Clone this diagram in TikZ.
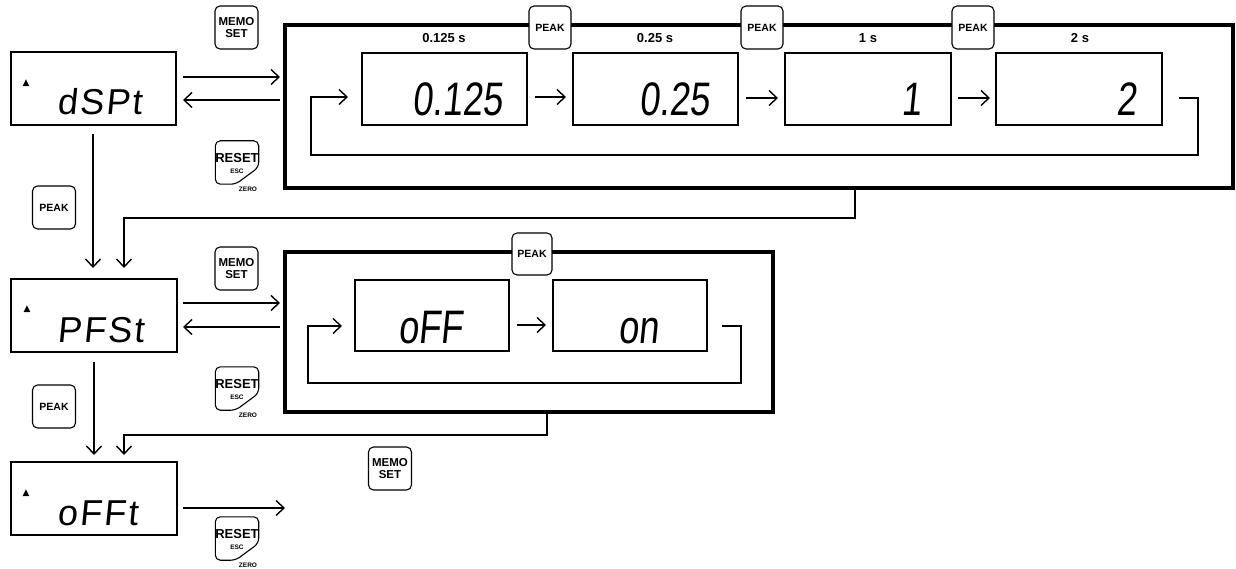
\documentclass[tikz,border=0pt]{standalone}
\usepackage{fontspec}
\setmainfont{Liberation Sans}
\newfontfamily\lcd[FakeSlant=0.1,LetterSpace=6]{Liberation Sans}
\newfontfamily\lcdn[FakeSlant=0.1,FakeStretch=0.77]{Liberation Sans}
\newfontfamily\symf{DejaVu Sans}
\usetikzlibrary{arrows.meta}
\tikzset{
  conn/.style={line width=1.4pt},
  arr/.style={conn,-{Straight Barb[length=8pt,width=15pt]}},
  dispbox/.style={draw,line width=1.2pt,inner sep=0pt,minimum height=73pt},
  bigbox/.style={draw,line width=3.5pt,inner sep=0pt},
  btn/.style={draw,fill=white,rounded corners=5pt,line width=1.1pt,minimum width=43pt,minimum height=43pt,inner sep=0pt,align=center},
  peakbtn/.style={btn,font=\bfseries\fontsize{10.5}{11}\selectfont},
  memobtn/.style={btn,font=\bfseries\fontsize{11.5}{12}\selectfont},
  lcdtxt/.style={inner sep=0pt,anchor=base west,font=\lcd\fontsize{36}{36}\selectfont},
  lcdnum/.style={inner sep=0pt,anchor=base east,font=\lcdn\fontsize{47}{47}\selectfont},
  lcdin/.style={inner sep=0pt,anchor=base west,font=\lcdn\fontsize{47}{47}\selectfont},
  tri/.style={inner sep=0pt,font=\symf\fontsize{9}{9}\selectfont},
  lab/.style={inner sep=0pt,font=\bfseries\fontsize{13}{13}\selectfont},
}
\newcommand\ResetBtn[3]{%
  \node[minimum width=43pt,minimum height=43pt,inner sep=0pt] (#1) at (#2,#3) {};
  \draw[line width=1.1pt,rounded corners=5pt,fill=white] (#1.north) -- (#1.north east) -- ([yshift=17pt]#1.south east) -- ([xshift=-23pt]#1.south east) -- (#1.south west) -- (#1.north west) -- cycle;
  \node[inner sep=0pt,font=\bfseries\fontsize{13}{13}\selectfont] (#1r) at ([yshift=4pt]#1.center) {RESET};
  \node[inner sep=0pt,font=\bfseries\fontsize{6.5}{6.5}\selectfont] (#1e) at ([yshift=-8.5pt]#1.center) {ESC};
  \node[inner sep=0pt,font=\bfseries\fontsize{6.5}{6.5}\selectfont] (#1z) at ([xshift=11pt,yshift=-26.5pt]#1.center) {ZERO};
}
\begin{document}
\begin{tikzpicture}[x=1pt,y=-1pt]
\useasboundingbox (0,0) rectangle (1236,569);

% big boxes
\node[bigbox,minimum width=948pt,minimum height=163pt] (B1) at (759,106.5) {};
\node[bigbox,minimum width=488pt,minimum height=160pt] (B2) at (529,332) {};

% left displays
\node[dispbox,minimum width=165pt] (D1) at (93.5,88.5) {};
\node[dispbox,minimum width=166pt] (D2) at (94,315.5) {};
\node[dispbox,minimum width=166pt] (D3) at (94,498.5) {};
\node[tri] (D1m) at (26,83) {▲};
\node[tri] (D2m) at (27,309) {▲};
\node[tri] (D3m) at (26,493) {▲};
\node[lcdtxt] (D1t) at (57,115) {dSPt};
\node[lcdtxt] (D2t) at (57,342) {PFSt};
\node[lcdtxt] (D3t) at (57,525) {oFFt};

% value displays (time)
\node[dispbox,minimum width=165pt,minimum height=72pt] (V1) at (444.5,89) {};
\node[dispbox,minimum width=165pt,minimum height=72pt] (V2) at (655.5,89) {};
\node[dispbox,minimum width=166pt,minimum height=72pt] (V3) at (868,89) {};
\node[dispbox,minimum width=166pt,minimum height=72pt] (V4) at (1079,89) {};
\node[lcdnum] (V1t) at (503,116) {0.125};
\node[lcdnum] (V2t) at (710,116) {0.25};
\node[lcdnum] (V3t) at (922,116) {1};
\node[lcdnum] (V4t) at (1137,116) {2};
\node[lab] (L1) at (444,38) {0.125 s};
\node[lab] (L2) at (655,38) {0.25 s};
\node[lab] (L3) at (868,38) {1 s};
\node[lab] (L4) at (1080,38) {2 s};

% on/off displays
\node[dispbox,minimum width=154pt,minimum height=71pt] (W1) at (432,315.5) {};
\node[dispbox,minimum width=154pt,minimum height=71pt] (W2) at (630,315.5) {};
\node[lcdin] (W1t) at (398,343) {oFF};
\node[lcdin] (W2t) at (618,343) {on};

% buttons
\node[memobtn] (M1) at (236.5,27.5) {MEMO\\SET};
\node[memobtn] (M2) at (236.5,268.5) {MEMO\\SET};
\node[memobtn] (M3) at (390,468.5) {MEMO\\SET};
\ResetBtn{R1}{237}{162.5}
\ResetBtn{R2}{237}{388.5}
\ResetBtn{R3}{237}{538.5}
\node[peakbtn] (P1) at (54,207.5) {PEAK};
\node[peakbtn] (P2) at (54,406.5) {PEAK};
\node[peakbtn,minimum width=42pt] (PT1) at (550,27.5) {PEAK};
\node[peakbtn,minimum width=42pt] (PT2) at (762,27.5) {PEAK};
\node[peakbtn,minimum width=42pt] (PT3) at (973,27.5) {PEAK};
\node[peakbtn,minimum width=40pt,minimum height=42pt] (PB) at (532,254) {PEAK};

% coordinates for connector ends
\coordinate (a1s) at (183,77);  \coordinate (a1e) at (280,77);
\coordinate (b1s) at (280,100); \coordinate (b1e) at (183,100);
\coordinate (a2s) at (183,303); \coordinate (a2e) at (280,303);
\coordinate (b2s) at (280,327); \coordinate (b2e) at (183,327);
\coordinate (a3s) at (183,508); \coordinate (a3e) at (285,508);

% horizontal MEMO/RESET arrows
\draw[arr] (a1s) -- (a1e);
\draw[arr] (b1s) -- (b1e);
\draw[arr] (a2s) -- (a2e);
\draw[arr] (b2s) -- (b2e);
\draw[arr] (a3s) -- (a3e);

% vertical PEAK arrows
\coordinate (p1s) at (93,134); \coordinate (p1e) at (93,268);
\coordinate (p2s) at (94,362); \coordinate (p2e) at (94,455);
\draw[arr] (p1s) -- (p1e);
\draw[arr] (p2s) -- (p2e);

% return from big boxes
\coordinate (r1s) at (855,188); \coordinate (r1e) at (124,268);
\coordinate (r2s) at (547,412); \coordinate (r2e) at (124,455);
\draw[arr] (r1s) -- (855,218) -- (124,218) -- (r1e);
\draw[arr] (r2s) -- (547,435) -- (124,435) -- (r2e);

% time value arrows
\draw[arr] (535,97) -- (566,97);
\draw[arr] (746,98) -- (778,98);
\draw[arr] (958,98) -- (990,98);
\draw[arr] (1179,98) -- (1198,98) -- (1198,155) -- (311,155) -- (311,97) -- (348,97);

% on/off arrows
\draw[arr] (517,325) -- (546,325);
\draw[arr] (722,326) -- (741,326) -- (741,383) -- (308,383) -- (308,326) -- (342,326);
\end{tikzpicture}
\end{document}
